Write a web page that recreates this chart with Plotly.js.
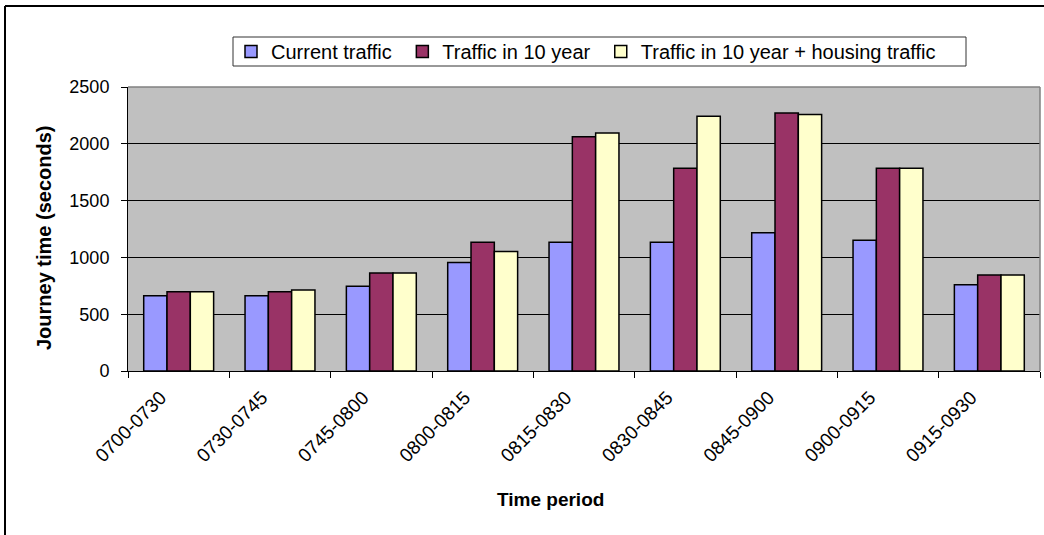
<!DOCTYPE html>
<html>
<head>
<meta charset="utf-8">
<script src="https://cdn.plot.ly/plotly-3.0.1.min.js"></script>
<style>
  html, body { margin: 0; padding: 0; background: #ffffff; }
  #chart { width: 1044px; height: 535px; }
</style>
</head>
<body>
<div id="chart"></div>
<script>
// Morning journey times per 15/30-minute period
const periods = ["0700-0730", "0730-0745", "0745-0800", "0800-0815", "0815-0830",
                 "0830-0845", "0845-0900", "0900-0915", "0915-0930"];
const currentTraffic = [662, 662, 745, 955, 1134, 1134, 1216, 1152, 759];
const trafficIn10Year = [698, 698, 862, 1134, 2061, 1785, 2272, 1785, 844];
const trafficWithHousing = [698, 712, 862, 1052, 2096, 2242, 2257, 1785, 844];

const seriesNames = ["Current traffic", "Traffic in 10 year", "Traffic in 10 year + housing traffic"];
const seriesColors = ["#9999FF", "#993366", "#FFFFCC"];
const seriesValues = [currentTraffic, trafficIn10Year, trafficWithHousing];

const yTicks = [0, 500, 1000, 1500, 2000, 2500];
const xTitle = "Time period";
const yTitle = "Journey time (seconds)";

const FONT = "Liberation Sans, Arial, sans-serif";
const PAD = "\u00A0";   // extra room between legend entries

const traces = seriesValues.map((vals, i) => ({
  type: "bar",
  name: seriesNames[i] + (i < seriesNames.length - 1 ? PAD : ""),
  x: periods,
  y: vals,
  marker: { color: seriesColors[i], line: { color: "#000000", width: 1.5 } },
  hoverinfo: "x+y+name"
}));

// plot area: x 128..1040, y 87..371 (pixels)
const L = 128, R = 4, T = 87, B = 164;
const W = 1044 - L - R, H = 535 - T - B;
const px = v => (v - L) / W;          // pixel x -> paper x
const py = v => (535 - B - v) / H;    // pixel y -> paper y

const layout = {
  width: 1044,
  height: 535,
  margin: { l: L, r: R, t: T, b: B, pad: 0 },
  paper_bgcolor: "#ffffff",
  plot_bgcolor: "#C0C0C0",
  font: { family: FONT, size: 18, color: "#000000" },
  barmode: "group",
  bargap: 0.31,
  bargroupgap: 0,
  showlegend: true,
  legend: {
    orientation: "h",
    x: px(231), xanchor: "left",
    y: py(51.5), yanchor: "middle",
    bgcolor: "rgba(0,0,0,0)",
    borderwidth: 0,
    font: { family: FONT, size: 20, color: "#000000" },
    traceorder: "normal",
    itemclick: false
  },
  xaxis: {
    type: "category",
    tickson: "boundaries",
    ticks: "outside",
    ticklen: 6,
    tickcolor: "#000000",
    tickwidth: 1,
    tickangle: -45,
    ticklabelshift: -18,
    ticklabelstandoff: 7,
    tickfont: { family: FONT, size: 19, color: "#000000" },
    showline: true,
    linecolor: "#000000",
    linewidth: 1,
    showgrid: false,
    zeroline: false,
    automargin: false
  },
  yaxis: {
    range: [0, 2500],
    tickvals: yTicks,
    ticks: "outside",
    ticklen: 6,
    tickcolor: "#000000",
    tickwidth: 1,
    ticklabelstandoff: 8,
    tickfont: { family: FONT, size: 18, color: "#000000" },
    showline: true,
    linecolor: "#000000",
    linewidth: 1,
    showgrid: true,
    gridcolor: "#000000",
    gridwidth: 1,
    zeroline: false,
    automargin: false
  },
  annotations: [
    { text: "<b>" + xTitle + "</b>", xref: "paper", yref: "paper",
      x: px(550), y: py(499), xanchor: "center", yanchor: "middle", showarrow: false,
      font: { family: FONT, size: 19, color: "#000000" } },
    { text: "<b>" + yTitle + "</b>", xref: "paper", yref: "paper", textangle: -90,
      x: px(44), y: py(238), xanchor: "center", yanchor: "middle", showarrow: false,
      font: { family: FONT, size: 20, color: "#000000" } }
  ],
  shapes: [
    // legend frame
    { type: "rect", xref: "paper", yref: "paper", x0: px(233), x1: px(966), y0: py(66), y1: py(37),
      fillcolor: "#ffffff", line: { color: "#333333", width: 1 }, layer: "below" },
    // grey frame on top and right of the plot area
    { type: "line", xref: "paper", yref: "paper", x0: 0, x1: 1, y0: 1, y1: 1,
      line: { color: "#808080", width: 1.5 }, layer: "above" },
    { type: "line", xref: "paper", yref: "paper", x0: 1, x1: 1, y0: 0, y1: 1,
      line: { color: "#808080", width: 1.5 }, layer: "above" },
    // outer chart border
    { type: "line", xref: "paper", yref: "paper", x0: px(5), x1: px(1060), y0: py(6), y1: py(6),
      line: { color: "#000000", width: 2 } },
    { type: "line", xref: "paper", yref: "paper", x0: px(5), x1: px(5), y0: py(6), y1: py(560),
      line: { color: "#000000", width: 2 } }
  ]
};

Plotly.newPlot("chart", traces, layout, { displayModeBar: false, staticPlot: true });
</script>
</body>
</html>
